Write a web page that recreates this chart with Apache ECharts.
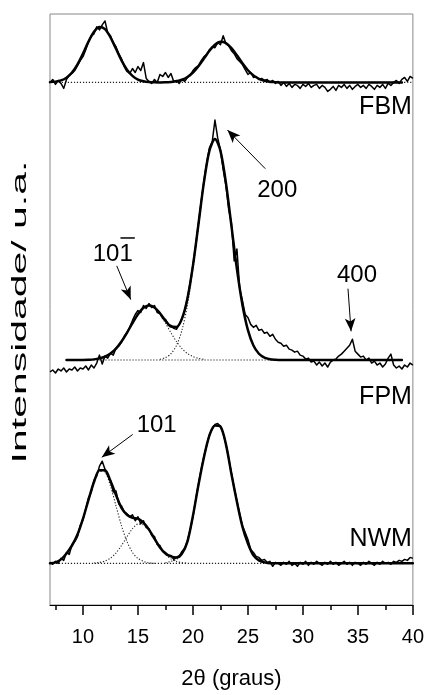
<!DOCTYPE html>
<html>
<head>
<meta charset="utf-8">
<script src="https://cdn.jsdelivr.net/npm/echarts@6/dist/echarts.min.js"></script>
<style>html,body{margin:0;padding:0;background:#fff}#c{width:427px;height:695px}</style>
</head>
<body>
<div id="c"></div>
<script>
// ---------- data ----------
const X_MIN = 7, X_MAX = 40;
const DATA_STEP = 0.25;   // experimental curves: 7.00 .. 40.00
const FIT_STEP = 0.5;     // fitted curves
const xTickLabels = [10, 15, 20, 25, 30, 35, 40];
const xMinorTicks = [7.5, 12.5, 17.5, 22.5, 27.5, 32.5, 37.5];
const panelNames = ['FBM', 'FPM', 'NWM'];
const panelOffsets = [527, 247, 42];

// FBM
const fbmData = [
  0, 3, -2, 2, -1, -6, 3, 7,
  9, 12, 17, 22, 26, 33, 41, 47,
  49, 56, 53, 58, 62, 50, 47, 40,
  36, 29, 24, 16, 11, 9, 14, 10,
  16, 12, 20, 4, 1, -1, 3, 0,
  8, 6, 10, 5, 9, 1, 2, -1,
  3, 1, 5, 7, 12, 15, 17, 22,
  26, 28, 33, 36, 35, 40, 38, 47,
  39, 37, 32, 29, 24, 21, 18, 13,
  8, 10, 5, 6, 3, 4, 2, 3,
  0, 2, -1, 1, -3, 0, -4, -1,
  -5, -2, -3, -6, -2, -4, -1, -5,
  -3, -2, -6, -3, -5, -9, -7, -4,
  -8, -3, -5, -2, -6, -3, -7, -4,
  -2, -5, -3, -6, -2, -4, -7, -3,
  -5, -2, -6, -1, -3, 0, 2, -1,
  3, 5, 1, 6, 4
];
const fbmFitStart = 7;
const fbmFit = [
  0.3, 0.8, 2, 4.8, 10, 18.2, 29.1, 41.1, 51.1, 55.9, 53.8, 45.5, 34, 22.3,
  12.9, 6.6, 2.9, 1.2, 0.4, 0.1, 0, 0.1, 0.5, 1.2, 2.7, 5.5, 10, 16.4,
  24.1, 31.9, 38, 40.9, 39.7, 34.6, 27.3, 19.3, 12.3, 7.1, 3.7, 1.7, 0.7, 0.3,
  0, 0, 0, 0, 0, 0, 0, 0, 0, 0, 0, 0, 0, 0, 0, 0, 0, 0, 0, 0, 0, 0, 0
];
const fbmBaseRange = [7, 40];

// FPM
const fpmData = [
  -12, -10, -13, -9, -11, -8, -12, -9,
  -10, -7, -11, -8, -9, -6, -10, -5,
  -8, -3, 5, -4, 4, 2, 7, 5,
  12, 14, 18, 24, 28, 33, 40, 46,
  50, 48, 55, 52, 57, 53, 55, 48,
  47, 42, 41, 36, 35, 32, 31, 36,
  42, 50, 63, 78, 96, 116, 138, 160,
  181, 199, 214, 220, 242, 224, 212, 192,
  176, 152, 138, 100, 112, 72, 60, 46,
  43, 36, 33, 35, 30, 31, 27, 28,
  24, 26, 21, 18, 17, 14, 15, 11,
  10, 8, 9, 5, 4, 1, 2, -2,
  -1, -5, -2, -6, -3, -7, -2, 0,
  1, 4, 6, 9, 12, 15, 21, 9,
  6, 3, 4, 0, 2, -3, -1, -5,
  -3, -7, -4, 2, 6, -5, -8, -6,
  -9, -5, -7, -3, -5
];
const fpmFitStart = 8.5;
const fpmFit = [
  0, 0, 0, 0.1, 0.3, 0.7, 1.7, 3.5, 6.6, 11.6, 18.7, 27.5, 37.3, 46.3,
  52.7, 55, 53, 47.2, 39.8, 33.9, 33.4, 41.8, 62.2, 95.2, 137, 179.4, 211.2, 223,
  211, 178.6, 135.3, 91.7, 55.6, 30.2, 14.7, 6.4, 2.5, 0.9, 0.3,
  0, 0, 0, 0, 0, 0, 0, 0, 0, 0, 0, 0, 0, 0, 0, 0, 0, 0, 0, 0, 0, 0, 0
];
const fpmComp1Start = 11;
const fpmComp1 = [0.7, 1.7, 3.5, 6.6, 11.6, 18.7, 27.5, 37.3, 46.3, 52.7, 55, 52.7, 46.3, 37.3, 27.5, 18.7, 11.6, 6.6, 3.5, 1.7, 0.8];
const fpmComp2Start = 17;
const fpmComp2 = [0.9, 2.5, 6.4, 14.7, 30.2, 55.6, 91.7, 135.3, 178.6, 210.9, 223, 210.9, 178.6, 135.3, 91.7, 55.6, 30.2, 14.7, 6.4, 2.5, 0.9];
const fpmBaseRange = [8.5, 39];

// NWM
const nwmData = [
  1, -1, 2, 0, 5, 3, 11, 9,
  19, 22, 27, 38, 44, 55, 66, 72,
  84, 88, 98, 103, 95, 88, 84, 72,
  73, 60, 58, 52, 50, 47, 49, 43,
  47, 40, 43, 36, 35, 28, 27, 19,
  18, 12, 11, 8, 8, 4, 6, 7,
  12, 15, 23, 34, 47, 64, 80, 95,
  108, 119, 130, 135, 140, 141, 138, 131,
  120, 106, 91, 76, 63, 50, 38, 31,
  24, 14, 11, 7, 6, 3, 4, 1,
  2, -3, 1, 0, -2, 1, -1, 2,
  -2, 0, -3, 1, -1, 2, -2, 1,
  -1, 2, 0, -2, 1, -1, 2, -1,
  1, -2, 0, 2, -1, 1, -2, 1,
  0, -2, 1, -1, 2, 0, -2, 1,
  -1, 2, 0, 1, -1, 2, 1, 3,
  2, 4, 3, 6, 5
];
const nwmFitStart = 7;
const nwmFit = [
  0, 1, 4, 10, 18, 29, 45, 64, 82, 94, 94, 83, 69, 56, 49, 46, 45, 41, 34, 25,
  16, 10, 7, 6, 10, 22, 48, 79, 107, 129, 139, 138, 120, 90, 62, 37, 20, 8, 3, 1, 0,
  0, 0, 0, 0, 0, 0, 0, 0, 0, 0, 0, 0, 0, 0, 0, 0, 0, 0, 0, 0, 0, 0, 0, 0, 0, 0
];
const nwmComp1Start = 7.5;
const nwmComp1 = [1, 4, 10, 18, 29, 45, 64, 82, 93, 92, 78, 58, 38, 22, 11, 5, 2, 0.5, 0];
const nwmComp2Start = 11;
const nwmComp2 = [0.3, 0.9, 2.3, 5.3, 10.4, 17.9, 26.8, 34.9, 39.6, 39, 33.5, 25, 16.3, 9.2, 4.5, 1.9, 0.7, 0.2];
const nwmComp3Start = 17.5;
const nwmComp3 = [0.5, 2, 4, 9, 22, 48, 79, 107, 129, 139, 138, 120, 90, 62, 37, 20, 8, 3, 1, 0];
const nwmBaseRange = [7, 40];

// annotations (data units, y relative to panel baseline)
const annotations = [
  { text: '200', panel: 1, at: [27.67, 171], from: [26.58, 193], to: [23.14, 232] },
  { text: '400', panel: 1, at: [34.92, 85], from: [34.1, 72], to: [34.38, 29] },
  { text: '101', bar: true, panel: 1, at: [12.71, 107], from: [13.07, 95], to: [14.34, 61] },
  { text: '101', panel: 2, at: [16.7, 139], from: [14.52, 130], to: [11.71, 107] }
];
const panelLabelY = [-25, -37, 24];

// ---------- build ----------
function pairs(arr, start, step, off) {
  return arr.map((v, i) => [start + i * step, v + off]);
}
const FONT = '"Liberation Sans", Arial, sans-serif';
const series = [];
function dotted(data) {
  series.push({ type: 'line', data, showSymbol: false, smooth: 0.3, silent: true,
    lineStyle: { color: '#222', width: 1.1, type: [1.2, 1.8] }, z: 1 });
}
function exper(data) {
  series.push({ type: 'line', data, showSymbol: false, silent: true,
    lineStyle: { color: '#000', width: 1.5, join: 'round' }, z: 2 });
}
function fit(data) {
  series.push({ type: 'line', data, showSymbol: false, smooth: 0.3, silent: true,
    lineStyle: { color: '#000', width: 2.5, join: 'round', cap: 'round' }, z: 3 });
}
const offs = panelOffsets;
// FBM
dotted(fbmBaseRange.map(x => [x, offs[0]]));
exper(pairs(fbmData, X_MIN, DATA_STEP, offs[0]));
fit(pairs(fbmFit, fbmFitStart, FIT_STEP, offs[0]));
// FPM
dotted(fpmBaseRange.map(x => [x, offs[1]]));
dotted(pairs(fpmComp1, fpmComp1Start, FIT_STEP, offs[1]));
dotted(pairs(fpmComp2, fpmComp2Start, FIT_STEP, offs[1]));
exper(pairs(fpmData, X_MIN, DATA_STEP, offs[1]));
fit(pairs(fpmFit, fpmFitStart, FIT_STEP, offs[1]));
// NWM
dotted(nwmBaseRange.map(x => [x, offs[2]]));
dotted(pairs(nwmComp1, nwmComp1Start, FIT_STEP, offs[2]));
dotted(pairs(nwmComp2, nwmComp2Start, FIT_STEP, offs[2]));
dotted(pairs(nwmComp3, nwmComp3Start, FIT_STEP, offs[2]));
exper(pairs(nwmData, X_MIN, DATA_STEP, offs[2]));
fit(pairs(nwmFit, nwmFitStart, FIT_STEP, offs[2]));

// arrows
series.push({
  type: 'line', data: [], silent: true,
  markLine: {
    silent: true, animation: false,
    symbol: ['none', 'arrow'], symbolSize: [8, 13],
    label: { show: false },
    lineStyle: { color: '#000', width: 1, type: 'solid' },
    data: annotations.map(a => [
      { coord: [a.from[0], a.from[1] + offs[a.panel]] },
      { coord: [a.to[0], a.to[1] + offs[a.panel]] }
    ])
  }
});

const chart = echarts.init(document.getElementById('c'), null, { renderer: 'canvas' });
chart.setOption({
  animation: false,
  backgroundColor: '#fff',
  grid: { left: 50, right: 13, top: 14, bottom: 85, show: true, borderColor: '#888', borderWidth: 1 },
  xAxis: [
    {
      type: 'value', min: X_MIN, max: X_MAX, position: 'bottom',
      name: '2θ (graus)', nameLocation: 'middle', nameGap: 63,
      nameTextStyle: { fontFamily: FONT, fontSize: 22, color: '#000' },
      axisLine: { show: true, lineStyle: { color: '#000', width: 1 } },
      axisTick: { show: true, inside: false, length: 10, customValues: xTickLabels, lineStyle: { color: '#000', width: 1.5 } },
      axisLabel: { show: true, customValues: xTickLabels, margin: 22, fontFamily: FONT, fontSize: 20, color: '#000' },
      splitLine: { show: false }
    },
    {
      type: 'value', min: X_MIN, max: X_MAX, position: 'bottom',
      axisLine: { show: false },
      axisTick: { show: true, inside: false, length: 5, customValues: xMinorTicks, lineStyle: { color: '#000', width: 1.5 } },
      axisLabel: { show: false },
      splitLine: { show: false }
    }
  ],
  yAxis: { type: 'value', min: 0, max: 596, show: false, splitLine: { show: false } },
  series
});

const g = [];
const px = p => chart.convertToPixel({ gridIndex: 0 }, p);
// panel labels
panelNames.forEach((n, i) => {
  const p = px([X_MAX, offs[i] + panelLabelY[i]]);
  g.push({ type: 'text', x: p[0] - 1, y: p[1], silent: true,
    style: { text: n, font: '25px ' + FONT, fill: '#000', align: 'right', verticalAlign: 'middle', textAlign: 'right', textVerticalAlign: 'middle' } });
});
// annotation texts
const cnv = document.createElement('canvas').getContext('2d');
cnv.font = '24px "Liberation Sans"';
annotations.forEach(a => {
  const p = px([a.at[0], a.at[1] + offs[a.panel]]);
  g.push({ type: 'text', x: p[0], y: p[1], silent: true,
    style: { text: a.text, font: '24px ' + FONT, fill: '#000', align: 'center', verticalAlign: 'middle', textAlign: 'center', textVerticalAlign: 'middle' } });
  if (a.bar) {
    const w = cnv.measureText(a.text).width;
    const w1 = cnv.measureText('1').width;
    const x2 = p[0] + w / 2 + 2;
    const x1 = p[0] + w / 2 - w1 + 1;
    g.push({ type: 'line', silent: true, shape: { x1, y1: p[1] - 16, x2, y2: p[1] - 16 },
      style: { stroke: '#000', lineWidth: 1.5 } });
  }
});
// y-axis title (stretched along its direction as in the reference)
g.push({ type: 'text', x: 20, y: 312, rotation: Math.PI / 2, scaleX: 1.95, scaleY: 1, silent: true,
  style: { text: 'Intensidade/ u.a.', font: '21px ' + FONT, fill: '#000', align: 'center', verticalAlign: 'middle', textAlign: 'center', textVerticalAlign: 'middle' } });
chart.setOption({ graphic: g });
</script>
</body>
</html>
